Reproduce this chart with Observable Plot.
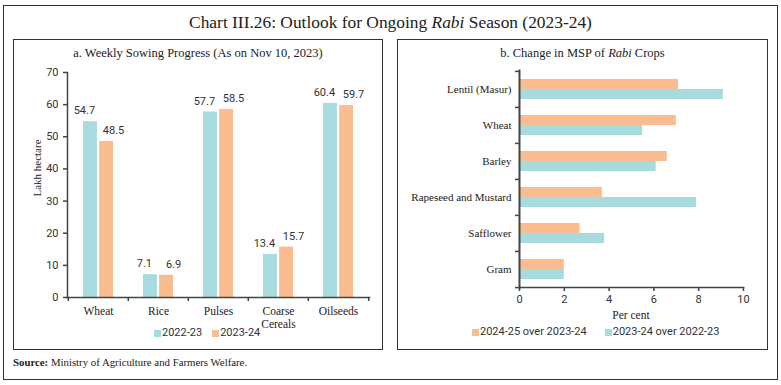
<!DOCTYPE html>
<html><head><meta charset="utf-8">
<script src="https://cdn.jsdelivr.net/npm/d3@7"></script>
<script src="https://cdn.jsdelivr.net/npm/@observablehq/plot@0.6"></script>
<style>
body{margin:0;width:781px;height:385px;background:#fff;position:relative;overflow:hidden;font-family:"Liberation Serif","DejaVu Serif",serif;color:#222}
.abs{position:absolute}
#outer{left:3px;top:5px;width:775px;height:375px;border:1.5px solid #333;box-sizing:border-box}
.panel{border:1.5px solid #333;box-sizing:border-box;top:39px;height:311px}
#title{left:0;top:11px;width:781px;text-align:center;font-size:17.4px;line-height:22px;color:#222}
.sub{top:45px;text-align:center;font-size:12.5px;line-height:17px;color:#222}
.sans{font-family:"Liberation Sans Narrow","Roboto","Liberation Sans",sans-serif}
.leg{display:flex;align-items:center;font-size:11px;line-height:12px;color:#333;white-space:nowrap}
.sw{width:7px;height:7px;margin-right:1px;display:inline-block}
#src{left:13px;top:355px;font-size:10.8px;line-height:14px;color:#222}
</style></head>
<body>
<script>
// ---- Data ----
const crops = ["Wheat", "Rice", "Pulses", "Coarse Cereals", "Oilseeds"];
const sow2223 = [54.7, 7.1, 57.7, 13.4, 60.4];
const sow2324 = [48.5, 6.9, 58.5, 15.7, 59.7];
const sowTicks = [0, 10, 20, 30, 40, 50, 60, 70];
const sowSeries = ["2022-23", "2023-24"];

const mspCrops = ["Lentil (Masur)", "Wheat", "Barley", "Rapeseed and Mustard", "Safflower", "Gram"];
const msp2425 = [7.1, 7.0, 6.6, 3.7, 2.7, 2.0];
const msp2324 = [9.1, 5.5, 6.1, 7.9, 3.8, 2.0];
const mspTicks = [0, 2, 4, 6, 8, 10];
const mspSeries = ["2024-25 over 2023-24", "2023-24 over 2022-23"];

const TEAL = "#a8dbdd", ORANGE = "#f9bd8f", AXIS = "#444";
const SANS = '"Liberation Sans Narrow","Roboto","Liberation Sans",sans-serif';
const SERIF = '"Liberation Serif","DejaVu Serif",serif';

function el(tag, cls, css, html) {
  const e = document.createElement(tag);
  if (cls) e.className = cls;
  Object.assign(e.style, css || {});
  if (html != null) e.innerHTML = html;
  document.body.appendChild(e);
  return e;
}

el("div", "abs", {}, null).id = "outer";
el("div", "abs", {}, 'Chart III.26: Outlook for Ongoing <i>Rabi</i> Season (2023-24)').id = "title";
el("div", "abs panel", {left: "13px", width: "370px"});
el("div", "abs panel", {left: "397px", width: "371px"});
el("div", "abs sub", {left: "13px", width: "370px"}, "a. Weekly Sowing Progress (As on Nov 10, 2023)");
el("div", "abs sub", {left: "397px", width: "371px"}, "b. Change in MSP of <i>Rabi</i> Crops");

// ---- Left chart ----
{
  const W = 370, H = 270, ml = 54, mr = 14, mt = 12, mb = 33;
  const step = (W - ml - mr) / crops.length;
  const bw = step * 0.5;
  const ins = bw / 2 + 1;
  const dA = crops.map((c, i) => ({crop: c, v: sow2223[i]}));
  const dB = crops.map((c, i) => ({crop: c, v: sow2324[i]}));
  const p = Plot.plot({
    width: W, height: H, marginLeft: ml, marginRight: mr, marginTop: mt, marginBottom: mb,
    style: {fontFamily: SANS, fontSize: "11px", color: "#333", background: "transparent", overflow: "visible"},
    x: {domain: crops, paddingInner: 0.5, paddingOuter: 0.25},
    y: {domain: [0, 70]},
    marks: [
      Plot.barY(dA, {x: "crop", y: "v", fill: TEAL, insetRight: ins}),
      Plot.barY(dB, {x: "crop", y: "v", fill: ORANGE, insetLeft: ins}),
      Plot.text(dA, {x: "crop", y: "v", text: d => d.v.toFixed(1), dx: -(bw - ins), dy: -11, fill: "#333", fontFamily: SANS, fontSize: 11}),
      Plot.text(dB, {x: "crop", y: "v", text: d => d.v.toFixed(1), dx: 15, dy: -11, fill: "#333", fontFamily: SANS, fontSize: 11}),
      Plot.frame({anchor: "left", stroke: AXIS, strokeWidth: 1.5}),
      Plot.frame({anchor: "bottom", stroke: AXIS, strokeWidth: 1.5}),
      Plot.tickX(crops, {x: d => d, dx: -step / 2, insetTop: H - mt - mb, insetBottom: -4, stroke: AXIS, strokeWidth: 1.5}),
      Plot.tickX([crops[crops.length - 1]], {x: d => d, dx: step / 2, insetTop: H - mt - mb, insetBottom: -4, stroke: AXIS, strokeWidth: 1.5}),
      Plot.axisY({ticks: sowTicks, tickSize: 4, tickPadding: 5, label: null, stroke: AXIS, strokeWidth: 1.5, fontFamily: SANS, fontSize: 11}),
      Plot.axisX({tickSize: 0, tickPadding: 9, label: null, tickFormat: d => d.split(" ").join("\n"), lineHeight: 1.1, fontFamily: SERIF, fontSize: 11.5, fill: "#222"})
    ]
  });
  Object.assign(p.style, {position: "absolute", left: "13px", top: "60px"});
  document.body.appendChild(p);
}

el("div", "abs", {left: "7px", top: "162px", width: "60px", textAlign: "center", fontSize: "11px", lineHeight: "12px", transform: "rotate(-90deg)", transformOrigin: "center", color: "#222"}, "Lakh hectare");

// ---- Right chart ----
{
  const W = 371, H = 270, ml = 122, mr = 25, mt = 10, mb = 43;
  const pi = 0.45, po = 0.225;
  const step = (H - mt - mb) / (mspCrops.length - pi + 2 * po);
  const bw = step * (1 - pi);
  const dA = mspCrops.map((c, i) => ({crop: c, v: msp2425[i]}));
  const dB = mspCrops.map((c, i) => ({crop: c, v: msp2324[i]}));
  const p = Plot.plot({
    width: W, height: H, marginLeft: ml, marginRight: mr, marginTop: mt, marginBottom: mb,
    style: {fontFamily: SANS, fontSize: "11px", color: "#333", background: "transparent", overflow: "visible"},
    y: {domain: mspCrops, paddingInner: pi, paddingOuter: po},
    x: {domain: [0, 10]},
    marks: [
      Plot.barX(dA, {y: "crop", x: "v", fill: ORANGE, insetBottom: bw / 2}),
      Plot.barX(dB, {y: "crop", x: "v", fill: TEAL, insetTop: bw / 2}),
      Plot.frame({anchor: "left", stroke: AXIS, strokeWidth: 2}),
      Plot.frame({anchor: "bottom", stroke: AXIS, strokeWidth: 1.5}),
      Plot.tickY(mspCrops, {y: d => d, dy: -step / 2, insetLeft: -4, insetRight: W - ml - mr, stroke: AXIS, strokeWidth: 1.5}),
      Plot.tickY([mspCrops[mspCrops.length - 1]], {y: d => d, dy: step / 2, insetLeft: -4, insetRight: W - ml - mr, stroke: AXIS, strokeWidth: 1.5}),
      Plot.axisX({ticks: mspTicks, tickSize: 4, tickPadding: 4, label: null, stroke: AXIS, strokeWidth: 1.5, fontFamily: SANS, fontSize: 11}),
      Plot.axisY({tickSize: 0, tickPadding: 8, label: null, fontFamily: SERIF, fontSize: 11, fill: "#222"})
    ]
  });
  Object.assign(p.style, {position: "absolute", left: "397px", top: "60px"});
  document.body.appendChild(p);
}

el("div", "abs", {left: "531px", top: "308px", width: "200px", textAlign: "center", fontSize: "11.5px", lineHeight: "14px", color: "#222"}, "Per cent");

// ---- Legends ----
function legend(x, y, names, colors, gap) {
  const box = el("div", "abs leg sans", {left: x + "px", top: y + "px"});
  names.forEach((n, i) => {
    const s = document.createElement("span");
    s.className = "sw"; s.style.background = colors[i];
    const t = document.createElement("span");
    t.textContent = n;
    if (i > 0) s.style.marginLeft = gap + "px";
    box.appendChild(s); box.appendChild(t);
  });
}
legend(154, 327, sowSeries, [TEAL, ORANGE], 10);
legend(472, 326, mspSeries, [ORANGE, TEAL], 18);

el("div", "abs", {}, "<b>Source:</b> Ministry of Agriculture and Farmers Welfare.").id = "src";
</script>
</body></html>
